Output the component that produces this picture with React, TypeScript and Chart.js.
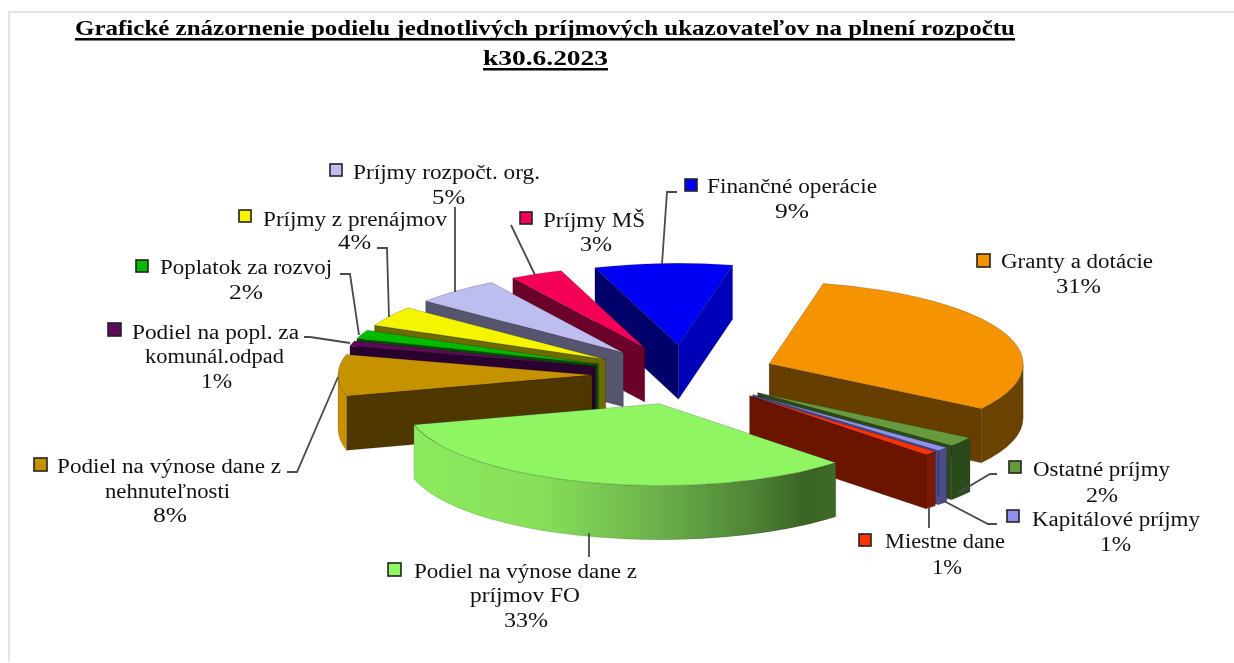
import React, { useEffect, useRef } from "react";
import { Chart, registerables } from "chart.js";

Chart.register(...registerables);

const categories = [
  "Granty a dotácie",
  "Ostatné príjmy",
  "Kapitálové príjmy",
  "Miestne dane",
  "Podiel na výnose dane z príjmov FO",
  "Podiel na výnose dane z nehnuteľnosti",
  "Podiel na popl. za komunál.odpad",
  "Poplatok za rozvoj",
  "Príjmy z prenájmov",
  "Príjmy rozpočt. org.",
  "Príjmy MŠ",
  "Finančné operácie",
];
const values = [30.83, 1.92, 0.78, 0.83, 33.07, 8.2, 1, 1.75, 4, 5.5, 3.36, 8.75];
const percents = ["31%", "2%", "1%", "1%", "33%", "8%", "1%", "2%", "4%", "5%", "3%", "9%"];
const labelLines = [
  ["Granty a dotácie"],
  ["Ostatné príjmy"],
  ["Kapitálové príjmy"],
  ["Miestne dane"],
  ["Podiel na výnose dane z", "príjmov FO"],
  ["Podiel na výnose dane z", "nehnuteľnosti"],
  ["Podiel na popl. za", "komunál.odpad"],
  ["Poplatok za rozvoj"],
  ["Príjmy z prenájmov"],
  ["Príjmy rozpočt. org."],
  ["Príjmy MŠ"],
  ["Finančné operácie"],
];
const titleLines = [
  "Grafické znázornenie podielu jednotlivých príjmových ukazovateľov na plnení rozpočtu",
  "k30.6.2023",
];

const topColors = ["#F59300", "#669A3C", "#9090F0", "#FF3300", "#90F562", "#C69200", "#5C0A5C", "#00BB00", "#F5F500", "#BDBDF0", "#F50057", "#0000F5"];
const cutColors = ["#663F00", "#2B4A1C", "#4A4A8C", "#6B1400", "#3F6A28", "#4F3800", "#2A0030", "#005000", "#6B6B00", "#55556F", "#6B0028", "#00006B"];
const outerColors = ["#6B4300", "#2B4A1C", "#4A4A8C", "#7A1800", "#3F6A28", "#C69200", "#2A0030", "#005000", "#6B6B00", "#55556F", "#6B0028", "#0000B8"];
const lastCutColors = ["#663F00", "#2B4A1C", "#4A4A8C", "#6B1400", "#3F6A28", "#4F3800", "#2A0030", "#005000", "#6B6B00", "#55556F", "#6B0028", "#0000B8"];
const FO_INDEX = 4;

// Projection of the tilted pie
const CX = 684;
const CY = 375;
const RADIUS = 254;
const TILT = 0.323;
const EXPLODE = 92;
const DEPTH = 54;
const ROTATION = 12.3;

const TEXT_FONT = '20px "Liberation Serif"';
const TITLE_FONT = 'bold 22px "Liberation Serif"';

// [x0, x1, baseline] for every text line: name lines, then the percentage
const textBoxes = [
  [[1001, 1153, 268], [1056, 1101, 293]],
  [[1033, 1170, 476], [1086, 1118, 502]],
  [[1032, 1200, 526], [1100, 1131, 551]],
  [[885, 1005, 548], [932, 962, 574]],
  [[414, 637, 578], [470, 580, 602], [504, 548, 627]],
  [[57, 281, 473], [105, 230, 498], [153, 187, 522]],
  [[132, 299, 339], [145, 284, 363], [201, 232, 388]],
  [[160, 332, 274], [229, 263, 299]],
  [[263, 447, 226], [338, 371, 249]],
  [[353, 540, 179], [432, 465, 204]],
  [[543, 645, 227], [580, 612, 251]],
  [[707, 877, 193], [775, 809, 218]],
];
// Legend key squares: x, y, size
const keyBoxes = [
  [977, 254, 13], [1009, 461, 12], [1007, 510, 12], [859, 534, 12], [388, 563, 13], [34, 458, 13],
  [108, 323, 13], [136, 260, 12], [239, 210, 12], [330, 164, 12], [520, 212, 12], [685, 179, 12],
];
const leaders = [
  [],
  [[997, 474], [990, 474], [958, 493]],
  [[997, 524], [988, 524], [942, 500]],
  [[929, 528], [929, 507]],
  [[589, 557], [589, 533]],
  [[287, 472], [297, 472], [338, 377]],
  [[304, 337], [310, 337], [350, 343]],
  [[340, 274], [350, 274], [359, 335]],
  [[377, 248], [387, 248], [389, 317]],
  [[455, 207], [455, 292]],
  [[511, 225], [535, 275]],
  [[677, 192], [667, 192], [662, 264]],
];

function fitText(ctx: CanvasRenderingContext2D, s: string, x0: number, x1: number, y: number) {
  const w = ctx.measureText(s).width;
  ctx.save();
  ctx.translate(x0, y);
  ctx.scale((x1 - x0) / w, 1);
  ctx.fillText(s, 0, 0);
  ctx.restore();
}

const pie3d = {
  id: "pie3d",
  beforeDatasetDraw(chart: any, args: any) {
    const ctx: CanvasRenderingContext2D = chart.ctx;
    const arcs: any[] = args.meta.data;
    const mid = (a: any) => (a.startAngle + a.endAngle) / 2;
    const order = arcs.map((_, i) => i).sort((p, q) => Math.sin(mid(arcs[p])) - Math.sin(mid(arcs[q])));
    for (const i of order) {
      const arc = arcs[i];
      const m = mid(arc);
      const tx = CX + EXPLODE * Math.cos(m);
      const ty = CY + EXPLODE * TILT * Math.sin(m);
      const R = arc.outerRadius;
      const a0 = arc.startAngle;
      const a1 = arc.endAngle;
      const ry = R * TILT;
      const edge = (a: number) => [tx + R * Math.cos(a), ty + ry * Math.sin(a)];

      const quad = (a: number, color: string) => {
        const [ex, ey] = edge(a);
        ctx.beginPath();
        ctx.moveTo(tx, ty);
        ctx.lineTo(ex, ey);
        ctx.lineTo(ex, ey + DEPTH);
        ctx.lineTo(tx, ty + DEPTH);
        ctx.closePath();
        ctx.fillStyle = color;
        ctx.fill();
        ctx.strokeStyle = "rgba(0,0,0,0.25)";
        ctx.lineWidth = 0.7;
        ctx.stroke();
      };
      if (Math.cos(a0) < 0) quad(a0, cutColors[i]);
      if (Math.cos(a1) > 0) quad(a1, lastCutColors[i]);

      for (let n = -1; n <= 1; n++) {
        const s = Math.max(a0, n * 2 * Math.PI);
        const e = Math.min(a1, n * 2 * Math.PI + Math.PI);
        if (e <= s) continue;
        ctx.beginPath();
        ctx.ellipse(tx, ty, R, ry, 0, s, e);
        ctx.ellipse(tx, ty + DEPTH, R, ry, 0, e, s, true);
        ctx.closePath();
        if (i === FO_INDEX) {
          const [x0] = edge(e);
          const [x1] = edge(s);
          const g = ctx.createLinearGradient(x0, 0, x1, 0);
          g.addColorStop(0, "#8CEA5E");
          g.addColorStop(0.3, "#86DF59");
          g.addColorStop(0.55, "#6FB64D");
          g.addColorStop(0.8, "#4F8436");
          g.addColorStop(0.93, "#3A6324");
          g.addColorStop(1, "#3F6A28");
          ctx.fillStyle = g;
        } else {
          ctx.fillStyle = outerColors[i];
        }
        ctx.fill();
        ctx.strokeStyle = "rgba(0,0,0,0.2)";
        ctx.lineWidth = 0.7;
        ctx.stroke();
      }

      ctx.save();
      ctx.translate(tx, ty);
      ctx.scale(1, TILT);
      ctx.translate(-arc.x, -arc.y);
      arc.draw(ctx);
      ctx.restore();
    }
    return false;
  },
};

const frame = {
  id: "frame",
  beforeDraw(chart: any) {
    const ctx: CanvasRenderingContext2D = chart.ctx;
    ctx.save();
    ctx.fillStyle = "#fff";
    ctx.fillRect(0, 0, 1234, 663);
    ctx.fillStyle = "#E4E4E4";
    ctx.fillRect(8, 11, 1226, 2);
    ctx.fillRect(8, 11, 2, 651);
    ctx.restore();
  },
};

const annotations = {
  id: "annotations",
  afterDraw(chart: any) {
    const ctx: CanvasRenderingContext2D = chart.ctx;
    ctx.save();
    ctx.textBaseline = "alphabetic";
    ctx.textAlign = "left";

    ctx.font = TITLE_FONT;
    ctx.fillStyle = "#000";
    fitText(ctx, titleLines[0], 75, 1015, 35);
    ctx.fillRect(75, 38, 940, 2.5);
    fitText(ctx, titleLines[1], 483, 608, 65);
    ctx.fillRect(483, 68, 125, 2.5);

    ctx.strokeStyle = "#4a4a4a";
    ctx.lineWidth = 1.8;
    for (const pts of leaders) {
      if (!pts.length) continue;
      ctx.beginPath();
      pts.forEach(([x, y], k) => (k ? ctx.lineTo(x, y) : ctx.moveTo(x, y)));
      ctx.stroke();
    }

    ctx.font = TEXT_FONT;
    categories.forEach((_, i) => {
      const [kx, ky, ks] = keyBoxes[i];
      ctx.fillStyle = topColors[i];
      ctx.strokeStyle = "#222";
      ctx.lineWidth = 1.6;
      ctx.fillRect(kx, ky, ks, ks);
      ctx.strokeRect(kx, ky, ks, ks);
      const lines = [...labelLines[i], percents[i]];
      ctx.fillStyle = "#111";
      lines.forEach((line, k) => {
        const [x0, x1, y] = textBoxes[i][k];
        fitText(ctx, line, x0, x1, y);
      });
    });
    ctx.restore();
  },
};

export default function App() {
  const ref = useRef<HTMLCanvasElement | null>(null);
  useEffect(() => {
    document.body.style.margin = "0";
    const chart = new Chart(ref.current as HTMLCanvasElement, {
      type: "pie",
      data: {
        labels: categories,
        datasets: [
          {
            data: values,
            backgroundColor: topColors,
            borderColor: "rgba(0,0,0,0.3)",
            borderWidth: 1,
          },
        ],
      },
      options: {
        responsive: false,
        animation: false,
        events: [],
        radius: RADIUS,
        rotation: ROTATION,
        layout: { padding: 0 },
        plugins: { legend: { display: false }, title: { display: false }, tooltip: { enabled: false } },
      } as any,
      plugins: [frame, pie3d, annotations],
    });
    return () => chart.destroy();
  }, []);
  return <canvas ref={ref} width={1234} height={663} style={{ display: "block" }} />;
}
